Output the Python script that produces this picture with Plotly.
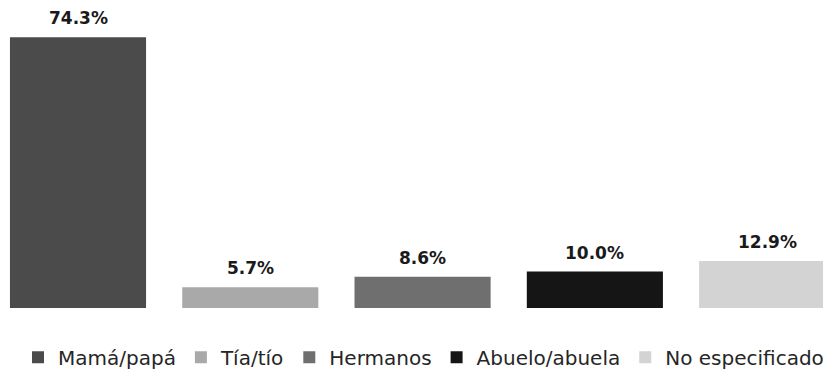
import plotly.graph_objects as go

categories = ["Mamá/papá", "Tía/tío", "Hermanos", "Abuelo/abuela", "No especificado"]
values = [74.3, 5.7, 8.6, 10.0, 12.9]
labels = ["74.3%", "5.7%", "8.6%", "10.0%", "12.9%"]
colors = ["#4b4b4b", "#a9a9a9", "#6f6f6f", "#151515", "#d3d3d3"]

fig = go.Figure()
for i, (c, v, col) in enumerate(zip(categories, values, colors)):
    fig.add_trace(go.Bar(x=[i], y=[v], name=c, marker=dict(color=col, line=dict(width=0)),
                         width=0.79, hoverinfo="skip"))
    fig.add_annotation(x=i, y=v, text="<b>%s</b>" % labels[i], showarrow=False,
                       yanchor="bottom", yshift=8, borderpad=0,
                       font=dict(size=17, color="#1a1a1a", family="DejaVu Sans"))

fig.update_layout(
    width=831, height=376,
    margin=dict(l=0, r=0, t=2, b=76),
    paper_bgcolor="white", plot_bgcolor="white",
    barmode="overlay",
    xaxis=dict(range=[-0.4063, 4.417], showticklabels=False, showgrid=False, zeroline=False, showline=False),
    yaxis=dict(range=[0, 81.8], showticklabels=False, showgrid=False, zeroline=False, showline=False),
    showlegend=True,
    legend=dict(orientation="h", x=0.5, xanchor="center", y=-0.165, yanchor="middle",
                font=dict(size=20, color="#262626", family="DejaVu Sans"), itemwidth=30,
                traceorder="normal", tracegroupgap=0),
)

fig.write_html("out.html")
